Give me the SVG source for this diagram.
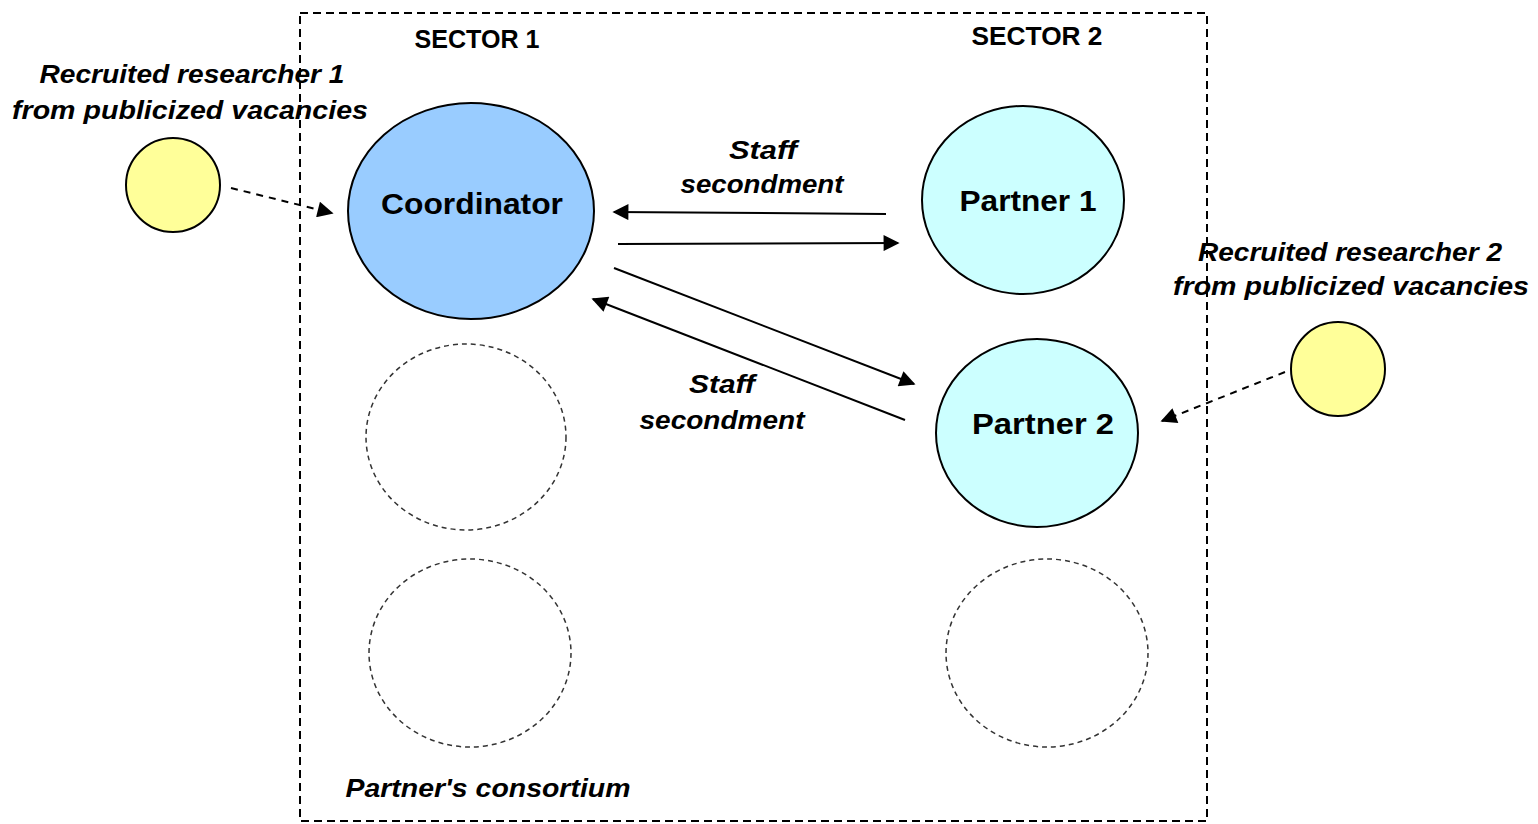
<svg xmlns="http://www.w3.org/2000/svg" width="1538" height="824" viewBox="0 0 1538 824">
<style>
.lbl{font-family:"Liberation Sans",Arial,sans-serif;font-weight:bold;font-style:italic;font-size:26px;fill:#000;text-anchor:middle}
.hdr{font-family:"Liberation Sans",Arial,sans-serif;font-weight:bold;font-size:26px;fill:#000;text-anchor:middle}
.nt{font-family:"Liberation Sans",Arial,sans-serif;font-weight:bold;font-size:29px;fill:#000;text-anchor:middle}
.node{stroke:#000;stroke-width:2}
.empty{fill:none;stroke:#333;stroke-width:1.5;stroke-dasharray:5 4}
.solid{stroke:#000;stroke-width:2;fill:none}
.dash{stroke:#000;stroke-width:2;fill:none;stroke-dasharray:7 6}
</style>
<defs>
<marker id="ahb" viewBox="0 0 10 10" refX="9" refY="5" markerWidth="20" markerHeight="16" markerUnits="userSpaceOnUse" orient="auto">
<path d="M0,0 L10,5 L0,10 z" fill="#000"/>
</marker>
</defs>
<rect width="1538" height="824" fill="#fff"/>
<g id="consortium">
<rect x="300" y="13" width="907" height="808" fill="none" stroke="#000" stroke-width="2" stroke-dasharray="8 5"/>
<text class="hdr" x="477" y="48" textLength="125" lengthAdjust="spacingAndGlyphs">SECTOR 1</text>
<text class="hdr" x="1037" y="45" textLength="131" lengthAdjust="spacingAndGlyphs">SECTOR 2</text>
<text class="lbl" x="488" y="797" textLength="285" lengthAdjust="spacingAndGlyphs">Partner's consortium</text>
</g>
<g id="researcher1">
<circle class="node" cx="173" cy="185" r="47" fill="#FFFF99"/>
<text class="lbl" x="192" y="83" textLength="305" lengthAdjust="spacingAndGlyphs">Recruited researcher 1</text>
<text class="lbl" x="190" y="119" textLength="356" lengthAdjust="spacingAndGlyphs">from publicized vacancies</text>
</g>
<g id="researcher2">
<circle class="node" cx="1338" cy="369" r="47" fill="#FFFF99"/>
<text class="lbl" x="1350" y="261" textLength="304" lengthAdjust="spacingAndGlyphs">Recruited researcher 2</text>
<text class="lbl" x="1351" y="295" textLength="356" lengthAdjust="spacingAndGlyphs">from publicized vacancies</text>
</g>
<g id="coordinator">
<ellipse class="node" cx="471" cy="211" rx="123" ry="108" fill="#99CCFF"/>
<text class="nt" x="472" y="214" textLength="182" lengthAdjust="spacingAndGlyphs">Coordinator</text>
</g>
<g id="partner1">
<ellipse class="node" cx="1023" cy="200" rx="101" ry="94" fill="#CCFFFF"/>
<text class="nt" x="1028" y="211" textLength="137" lengthAdjust="spacingAndGlyphs">Partner 1</text>
</g>
<g id="partner2">
<ellipse class="node" cx="1037" cy="433" rx="101" ry="94" fill="#CCFFFF"/>
<text class="nt" x="1043" y="434" textLength="142" lengthAdjust="spacingAndGlyphs">Partner 2</text>
</g>
<g id="empty1"><ellipse class="empty" cx="466" cy="437" rx="100" ry="93"/></g>
<g id="empty2"><ellipse class="empty" cx="470" cy="653" rx="101" ry="94"/></g>
<g id="empty3"><ellipse class="empty" cx="1047" cy="653" rx="101" ry="94"/></g>
<g id="connectors">
<line class="dash" x1="231" y1="188" x2="332" y2="213" marker-end="url(#ahb)"/>
<line class="dash" x1="1285" y1="372" x2="1162" y2="421" marker-end="url(#ahb)"/>
<line class="solid" x1="886" y1="214" x2="614" y2="212" marker-end="url(#ahb)"/>
<line class="solid" x1="618" y1="244" x2="898" y2="243" marker-end="url(#ahb)"/>
<line class="solid" x1="614" y1="268" x2="914" y2="384" marker-end="url(#ahb)"/>
<line class="solid" x1="905" y1="420" x2="593" y2="299" marker-end="url(#ahb)"/>
<text class="lbl" x="763" y="159" textLength="68" lengthAdjust="spacingAndGlyphs">Staff</text>
<text class="lbl" x="762" y="193" textLength="163" lengthAdjust="spacingAndGlyphs">secondment</text>
<text class="lbl" x="722" y="393" textLength="66" lengthAdjust="spacingAndGlyphs">Staff</text>
<text class="lbl" x="722" y="429" textLength="165" lengthAdjust="spacingAndGlyphs">secondment</text>
</g>
</svg>
